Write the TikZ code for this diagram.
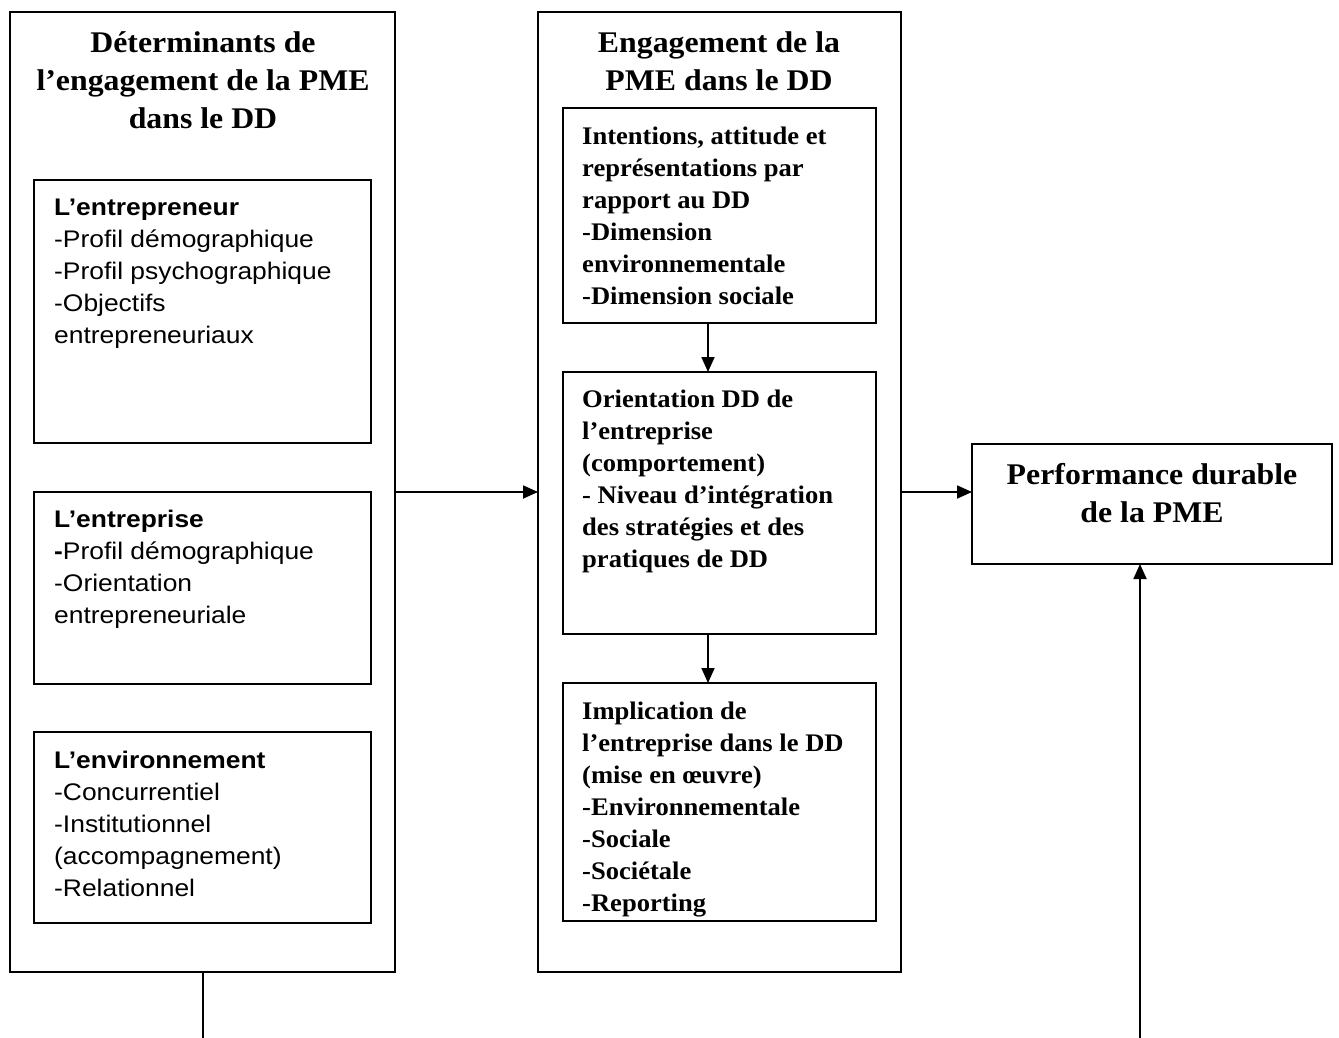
\documentclass[tikz,border=0pt]{standalone}
\usepackage{fontspec}
\setmainfont{Liberation Serif}
\setsansfont{Liberation Sans}
\newfontfamily\ttlfont[FakeStretch=1.06]{Liberation Serif}
\newfontfamily\midfont[FakeStretch=1.05]{Liberation Serif}
\newfontfamily\leftfont[FakeStretch=1.1]{Liberation Sans}
\usetikzlibrary{arrows.meta}
\begin{document}
\begin{tikzpicture}[x=1pt,y=-1pt,
 box/.style={draw, line width=2pt, anchor=north west, inner sep=0, outer sep=0},
 arr/.style={-{Triangle[length=15pt,width=13pt]}, line width=1.8pt},
 plain/.style={line width=1.6pt},
 ttl/.style={font=\ttlfont\fontsize{30}{38}\selectfont\bfseries, align=center, anchor=base, inner sep=0},
 mtxt/.style={font=\midfont\fontsize{25.3}{32}\selectfont\bfseries, align=left, anchor=base west, inner sep=0},
 ltxt/.style={font=\leftfont\fontsize{24}{32}\selectfont, align=left, anchor=base west, inner sep=0}]
\useasboundingbox (0,0) rectangle (1339,1038);
\fill[white] (0,0) rectangle (1339,1038);

% outer boxes
\node[box, minimum width=385, minimum height=960] (L) at (10,12) {};
\node[box, minimum width=363, minimum height=960] (M) at (538,12) {};
\node[box, minimum width=360, minimum height=120] (P) at (972,444) {};

% left inner boxes
\node[box, minimum width=337, minimum height=263] (L1) at (34,180) {};
\node[box, minimum width=337, minimum height=192] (L2) at (34,492) {};
\node[box, minimum width=337, minimum height=191] (L3) at (34,732) {};

% middle inner boxes
\node[box, minimum width=313, minimum height=215] (M1) at (563,108) {};
\node[box, minimum width=313, minimum height=262] (M2) at (563,372) {};
\node[box, minimum width=313, minimum height=238] (M3) at (563,683) {};

% titles (anchored on the baseline of their last line)
\node[ttl] (tL) at (203,129) {Déterminants de\\l’engagement de la PME\\dans le DD};
\node[ttl] (tM) at (719,91) {Engagement de la\\PME dans le DD};
\node[ttl] (tP) at (1152,522) {Performance durable\\de la PME};

% left texts
\node[ltxt] (xL1) at (54,343) {\textbf{L’entrepreneur}\\-Profil démographique\\-Profil psychographique\\-Objectifs\\entrepreneuriaux};
\node[ltxt] (xL2) at (54,623) {\textbf{L’entreprise}\\\textbf{-}Profil démographique\\-Orientation\\entrepreneuriale};
\node[ltxt] (xL3) at (54,896) {\textbf{L’environnement}\\-Concurrentiel\\-Institutionnel\\(accompagnement)\\-Relationnel};

% middle texts
\node[mtxt] (xM1) at (582,304) {Intentions, attitude et\\représentations par\\rapport au DD\\-Dimension\\environnementale\\-Dimension sociale};
\node[mtxt] (xM2) at (582,567) {Orientation DD de\\l’entreprise\\(comportement)\\- Niveau d’intégration\\des stratégies et des\\pratiques de DD};
\node[mtxt] (xM3) at (582,911) {Implication de\\l’entreprise dans le DD\\(mise en œuvre)\\-Environnementale\\-Sociale\\-Sociétale\\-Reporting};

% connectors
\draw[arr] (L.east) -- (M.west);
\draw[arr] (M.east) -- (M.east -| P.west);
\draw[arr] ([xshift=-11.5pt]M1.south) -- ([xshift=-11.5pt]M1.south |- M2.north);
\draw[arr] ([xshift=-11.5pt]M2.south) -- ([xshift=-11.5pt]M2.south |- M3.north);
\coordinate (e1) at (203,1038);
\coordinate (e2) at (1140,1038);
\draw[plain] (e1 |- L.south) -- (e1);
\draw[arr] (e2) -- (e2 |- P.south);
\end{tikzpicture}
\end{document}
